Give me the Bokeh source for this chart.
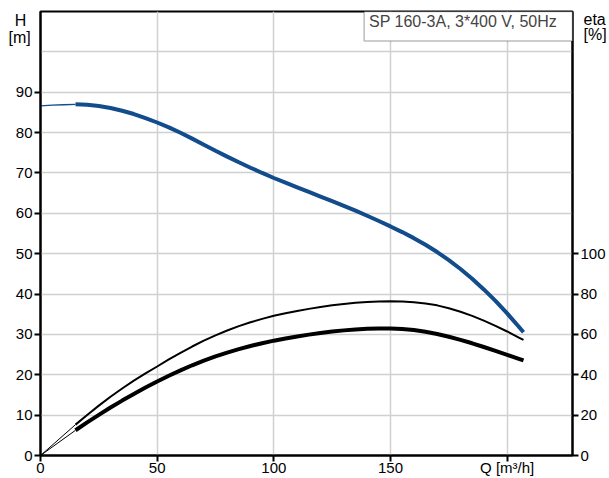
from bokeh.plotting import figure
from bokeh.models import Range1d, LinearAxis, FixedTicker, Label, BoxAnnotation, Grid
from bokeh.embed import file_html
from bokeh.resources import INLINE

# ---- data ----
# head curve H [m] vs Q [m3/h]
q_h_start = [0, 5, 10, 15]
h_start = [86.6, 86.8, 86.9, 87.0]
q_curve = [15, 20, 25, 30, 35, 40, 45, 50, 55, 60, 65, 70, 75, 80, 85, 90, 95,
           100, 105, 110, 115, 120, 125, 130, 135, 140, 145, 150, 155, 160,
           165, 170, 175, 180, 185, 190, 195, 200, 205, 207]
h_curve = [87.0, 86.9, 86.6, 86.1, 85.4, 84.6, 83.6, 82.5, 81.3, 79.95, 78.5,
           77.0, 75.5, 74.05, 72.65, 71.3, 70.0, 68.75, 67.6, 66.45, 65.3,
           64.15, 63.0, 61.85, 60.65, 59.4, 58.1, 56.75, 55.35, 53.85, 52.2,
           50.4, 48.4, 46.2, 43.8, 41.15, 38.3, 35.2, 31.9, 30.55]
# efficiency curves eta [%]
q_eta_start = [0, 15]
eta_pump_start = [0, 15.3]
eta_total_start = [0, 12.5]
eta_pump = [15.3, 20.1, 24.7, 29.1, 33.2, 37.1, 40.7, 44.1, 47.6, 50.9, 54.0,
            56.9, 59.55, 61.95, 64.1, 66.0, 67.7, 69.2, 70.45, 71.6, 72.65,
            73.6, 74.4, 75.1, 75.65, 76.05, 76.3, 76.4, 76.25, 75.9, 75.3,
            74.4, 73.0, 71.25, 69.2, 66.85, 64.25, 61.45, 58.45, 57.25]
eta_total = [12.5, 16.4, 20.15, 23.75, 27.2, 30.5, 33.65, 36.65, 39.5, 42.2,
             44.7, 47.0, 49.1, 51.0, 52.7, 54.25, 55.65, 56.9, 58.0, 59.0,
             59.9, 60.7, 61.4, 62.0, 62.45, 62.75, 62.9, 62.95, 62.7, 62.15,
             61.3, 60.2, 58.85, 57.3, 55.6, 53.75, 51.85, 49.9, 47.9, 47.1]

x_ticks = [0, 50, 100, 150, 200]
x_tick_labels = {200: "Q [m³/h]"}
h_ticks = [0, 10, 20, 30, 40, 50, 60, 70, 80, 90]
eta_ticks = [0, 20, 40, 60, 80, 100]
grid_x = [50, 100, 150, 200]
grid_y = [10, 20, 30, 40, 50, 60, 70, 80, 90, 100]
title_text = "SP 160-3A, 3*400 V, 50Hz"
# the two blank leading lines push the caption below the top edge
h_caption = "\n\nH\u00a0\n[m]"
eta_caption = "\n\neta\n[%]"

FONT = "Liberation Sans"
TICK_FS = "15px"
FS = "16px"
BLUE = "#124c8c"
Q_MAX = 228

p = figure(width=609, height=478, output_backend="svg", toolbar_location=None,
           x_range=Range1d(0, Q_MAX), y_range=Range1d(0, 110),
           x_axis_type=None, y_axis_type=None,
           min_border_left=40, min_border_right=33, min_border_top=11,
           min_border_bottom=21)
p.extra_y_ranges = {"eta": Range1d(0, 220)}
p.background_fill_color = "white"
p.border_fill_color = "white"
p.outline_line_color = "black"
p.outline_line_width = 2


def style_axis(ax, tick_out=6, standoff=2):
    ax.axis_line_color = "black"
    ax.axis_line_width = 2
    ax.major_tick_line_color = "black"
    ax.major_tick_line_width = 2
    ax.major_tick_in = 0
    ax.major_tick_out = tick_out
    ax.minor_tick_line_color = None
    ax.major_label_text_font = FONT
    ax.major_label_text_font_size = TICK_FS
    ax.major_label_text_color = "black"
    ax.major_label_standoff = standoff
    ax.axis_label_text_font = FONT
    ax.axis_label_text_font_size = FS
    ax.axis_label_text_font_style = "normal"
    ax.axis_label_text_color = "black"


xax = LinearAxis(ticker=FixedTicker(ticks=x_ticks),
                 major_label_overrides=x_tick_labels)
style_axis(xax, 6, -3)
xax.axis_label = None
xax.axis_label_standoff = 0
p.add_layout(xax, "below")

hax = LinearAxis(ticker=FixedTicker(ticks=h_ticks))
style_axis(hax, 6, 2)
p.add_layout(hax, "left")

eax = LinearAxis(y_range_name="eta", ticker=FixedTicker(ticks=eta_ticks))
style_axis(eax, 6, 2)
p.add_layout(eax, "right")

props = LinearAxis.properties()
if "axis_label_orientation" in props:
    for ax, txt, standoff, lh in [(hax, h_caption, -18, 1.0),
                                  (eax, eta_caption, -25, 0.9)]:
        ax.axis_label = txt
        ax.axis_label_orientation = "horizontal"
        ax.axis_label_standoff = standoff
        ax.axis_label_text_line_height = lh
        if "axis_label_align" in props:
            try:
                ax.axis_label_align = "end"
            except Exception:
                ax.axis_label_align = "right"

# grids
p.add_layout(Grid(dimension=0, ticker=FixedTicker(ticks=grid_x),
                  grid_line_color="#d0d0d0", grid_line_width=1.5))
p.add_layout(Grid(dimension=1, ticker=FixedTicker(ticks=grid_y),
                  grid_line_color="#d0d0d0", grid_line_width=1.5))

# curves
p.line(q_h_start, h_start, line_color=BLUE, line_width=1.3)
p.line(q_curve, h_curve, line_color=BLUE, line_width=4)
p.line(q_eta_start, eta_pump_start, y_range_name="eta", line_color="black", line_width=1)
p.line(q_eta_start, eta_total_start, y_range_name="eta", line_color="black", line_width=1)
p.line(q_curve, eta_pump, y_range_name="eta", line_color="black", line_width=2)
p.line(q_curve, eta_total, y_range_name="eta", line_color="black", line_width=4)

# title box
p.add_layout(BoxAnnotation(left=138.7, right=Q_MAX, bottom=102.7, top=110,
                           fill_color="white", fill_alpha=1,
                           line_color="#222222", line_width=1.5))
p.add_layout(Label(x=140.8, y=107.5, text=title_text, text_font=FONT,
                   text_font_size=FS, text_baseline="middle", text_align="left"))

open("out.html", "w").write(file_html(p, INLINE))
